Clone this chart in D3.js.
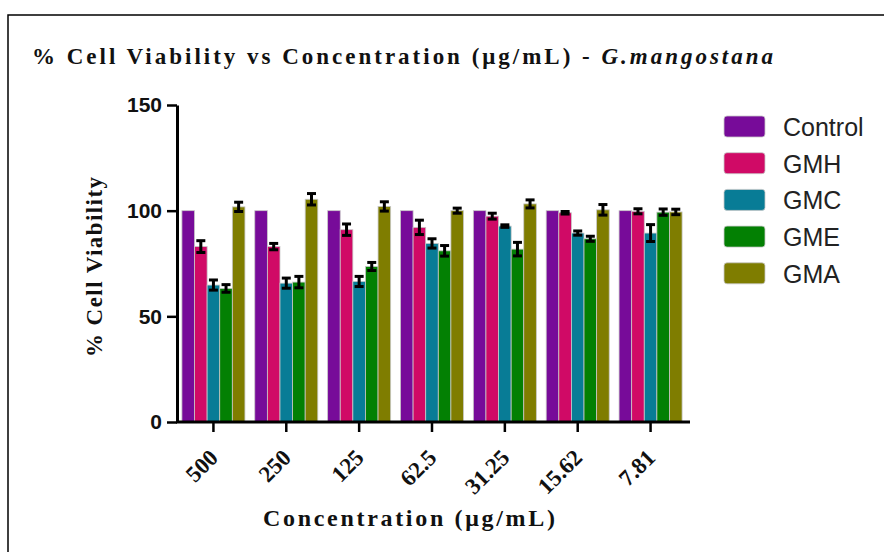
<html>
<body style="margin:0;background:#fff">
<meta charset="utf-8">
<script src="https://d3js.org/d3.v7.min.js"></script>
<div id="chart"></div>
<script>
// concentrations (ug/mL) along the x axis
var concentrations = ["500", "250", "125", "62.5", "31.25", "15.62", "7.81"];
var groups = ["Control", "GMH", "GMC", "GME", "GMA"];
var colors = ["#770b99", "#d00a66", "#087c96", "#038003", "#7f7d00"];

// mean % viability per group, one value per concentration
var control = [100, 100, 100, 100, 100, 100, 100];
var gmh = [83, 83, 91, 92.1, 97.4, 99, 99.7];
var gmc = [64.8, 65.7, 66.5, 84.5, 92.7, 89.4, 89.4];
var gme = [63.2, 66.2, 73.6, 81, 81.8, 86.7, 99.3];
var gma = [101.8, 105.4, 102, 100, 103.2, 100.4, 99.4];

// error bar half-length (SD)
var controlErr = [0, 0, 0, 0, 0, 0, 0];
var gmhErr = [2.8, 1.5, 2.7, 3.4, 1.4, 0.6, 1.2];
var gmcErr = [2.4, 2.4, 2.4, 2.2, 0.6, 1, 4];
var gmeErr = [1.8, 2.7, 1.9, 2.5, 3.2, 1.2, 1.5];
var gmaErr = [2.2, 2.7, 2.2, 1.2, 1.9, 2.5, 1.3];

var yTicks = [0, 50, 100, 150];

var series = [control, gmh, gmc, gme, gma];
var errs = [controlErr, gmhErr, gmcErr, gmeErr, gmaErr];

var W = 884, H = 552;
var serif = "Liberation Serif, Times New Roman, serif";
var sans = "Liberation Sans, Arial, sans-serif";

var svg = d3.select("#chart").append("svg")
    .attr("width", W).attr("height", H);

// outer frame
svg.append("rect")
    .attr("x", 8).attr("y", 15)
    .attr("width", 900).attr("height", 600)
    .attr("fill", "none").attr("stroke", "#000").attr("stroke-width", 1.5);

var x0 = d3.scaleBand()
    .domain(concentrations)
    .range([177, 687])
    .paddingInner(0.135)
    .paddingOuter(0.0675);

var x1 = d3.scaleBand()
    .domain(groups)
    .range([0, x0.bandwidth()]);

var y = d3.scaleLinear()
    .domain([0, 150])
    .range([422, 105]);

// flatten into rows
var rows = [];
concentrations.forEach(function(c, i) {
  groups.forEach(function(g, j) {
    rows.push({conc: c, group: g, value: series[j][i], err: errs[j][i], color: colors[j]});
  });
});

function cx(d) { return x0(d.conc) + x1(d.group) + x1.bandwidth() / 2; }

// bars
svg.append("g").selectAll("rect")
  .data(rows)
  .enter().append("rect")
    .attr("x", function(d) { return x0(d.conc) + x1(d.group); })
    .attr("y", function(d) { return y(d.value); })
    .attr("width", x1.bandwidth())
    .attr("height", function(d) { return y(0) - y(d.value); })
    .attr("fill", function(d) { return d.color; })
    .attr("stroke", "#c8c8c8")
    .attr("stroke-width", 0.8);

// error bars
var eb = svg.append("g").selectAll("g")
  .data(rows.filter(function(d) { return d.err > 0; }))
  .enter().append("g")
    .attr("stroke", "#000")
    .attr("stroke-width", 3);

eb.append("line")
    .attr("x1", cx).attr("x2", cx)
    .attr("y1", function(d) { return y(d.value + d.err); })
    .attr("y2", function(d) { return y(d.value - d.err); });

eb.append("line")
    .attr("x1", function(d) { return cx(d) - 4.5; })
    .attr("x2", function(d) { return cx(d) + 4.5; })
    .attr("y1", function(d) { return y(d.value + d.err); })
    .attr("y2", function(d) { return y(d.value + d.err); });

eb.append("line")
    .attr("x1", function(d) { return cx(d) - 4.5; })
    .attr("x2", function(d) { return cx(d) + 4.5; })
    .attr("y1", function(d) { return y(d.value - d.err); })
    .attr("y2", function(d) { return y(d.value - d.err); });

// y axis
var yAxis = svg.append("g")
    .attr("transform", "translate(177,0)")
    .call(d3.axisLeft(y).tickValues(yTicks).tickSize(10).tickPadding(5).tickSizeOuter(0));
yAxis.select(".domain").attr("stroke-width", 3);
yAxis.selectAll(".tick line").attr("stroke-width", 2.5);
yAxis.selectAll("text")
    .attr("font-family", sans)
    .attr("font-weight", "bold")
    .attr("font-size", 21)
    .attr("fill", "#111");

// x axis
var xAxis = svg.append("g")
    .attr("transform", "translate(0,422)")
    .call(d3.axisBottom(x0).tickSize(10).tickSizeOuter(0));
xAxis.select(".domain").remove();
xAxis.append("line")
    .attr("x1", 176).attr("x2", 690)
    .attr("stroke", "#000").attr("stroke-width", 3);
xAxis.selectAll(".tick line").attr("stroke-width", 2.5);
xAxis.selectAll("text")
    .attr("y", 0).attr("dy", 0)
    .attr("transform", "translate(6,37) rotate(-45)")
    .attr("text-anchor", "end")
    .attr("font-family", serif)
    .attr("font-weight", "bold")
    .attr("font-size", 23)
    .attr("fill", "#111");

// title
var title = svg.append("text")
    .attr("x", 32).attr("y", 64)
    .attr("font-family", serif)
    .attr("font-weight", "bold")
    .attr("font-size", 23)
    .attr("fill", "#111")
    .attr("textLength", 741)
    .attr("lengthAdjust", "spacing");
title.append("tspan").text("% Cell Viability vs Concentration (μg/mL) - ");
title.append("tspan").attr("font-style", "italic").text("G.mangostana");

// axis titles
svg.append("text")
    .attr("transform", "translate(102,267) rotate(-90)")
    .attr("text-anchor", "middle")
    .attr("font-family", serif)
    .attr("font-weight", "bold")
    .attr("font-size", 23)
    .attr("fill", "#111")
    .attr("textLength", 180)
    .attr("lengthAdjust", "spacing")
    .text("% Cell Viability");

svg.append("text")
    .attr("x", 409).attr("y", 526)
    .attr("text-anchor", "middle")
    .attr("font-family", serif)
    .attr("font-weight", "bold")
    .attr("font-size", 24)
    .attr("fill", "#111")
    .attr("textLength", 292)
    .attr("lengthAdjust", "spacing")
    .text("Concentration (μg/mL)");

// legend
var legend = svg.append("g").selectAll("g")
  .data(groups)
  .enter().append("g")
    .attr("transform", function(d, i) { return "translate(724," + (116 + i * 36.7) + ")"; });

legend.append("rect")
    .attr("width", 41).attr("height", 21)
    .attr("rx", 3)
    .attr("fill", function(d, i) { return colors[i]; })
    .attr("stroke", "#c8c8c8")
    .attr("stroke-width", 0.8);

legend.append("text")
    .attr("x", 59).attr("y", 20)
    .attr("font-family", sans)
    .attr("font-size", 25)
    .attr("fill", "#222")
    .text(function(d) { return d; });
</script>
</body>
</html>
